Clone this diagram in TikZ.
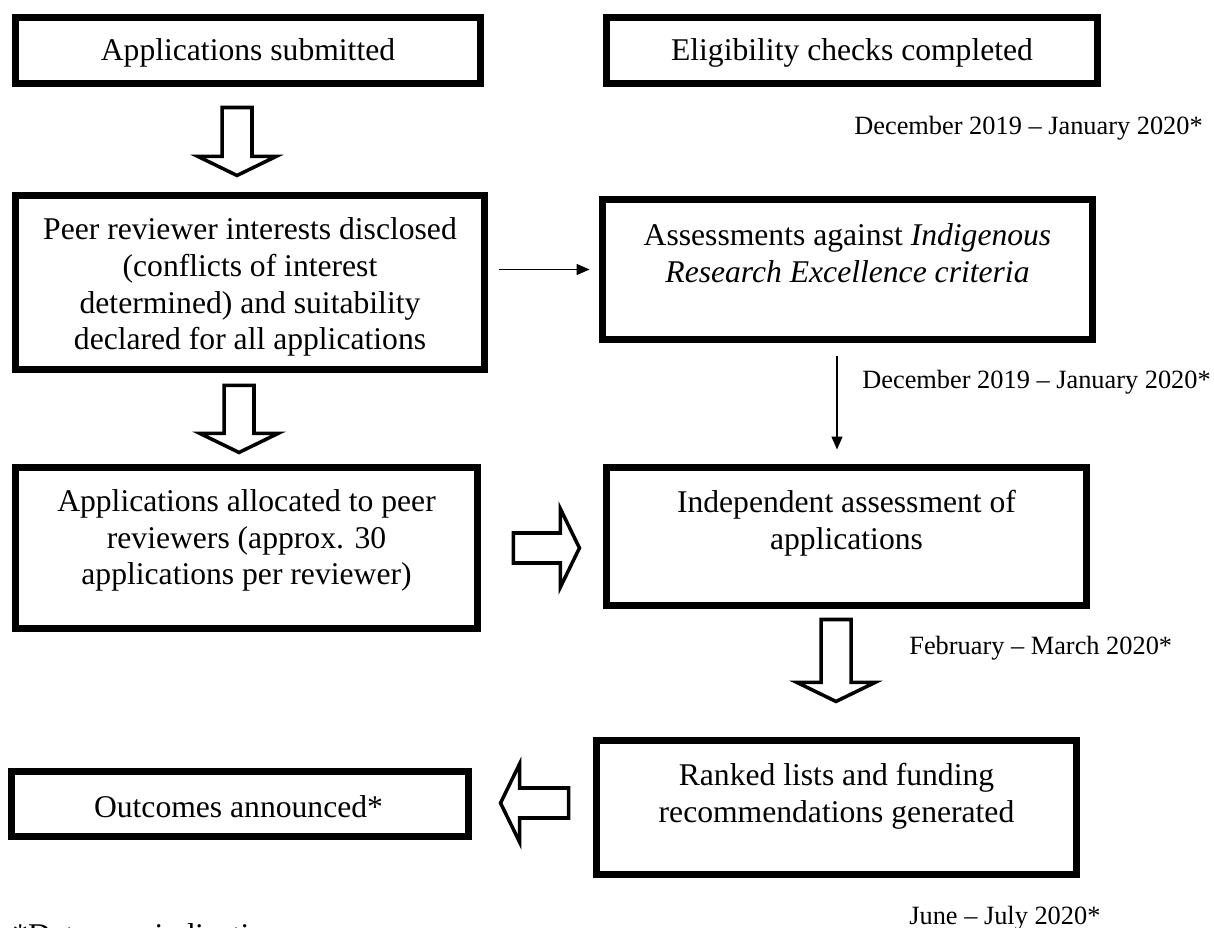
\documentclass[tikz,border=0pt]{standalone}
\usepackage{fontspec}
\setmainfont{Liberation Serif}
\usetikzlibrary{arrows.meta}

\tikzset{
  stage/.style={draw, line width=4pt, inner sep=0pt},
  txt/.style={align=center, inner sep=0pt, yshift=-0.05cm, font=\fontsize{18pt}{21pt}\selectfont},
  datetxt/.style={anchor=base west, inner sep=0pt, font=\fontsize{15pt}{18pt}\selectfont},
  hollow/.style={draw, line width=2pt, fill=white, line join=miter},
  thinarrow/.style={line width=0.8pt, -{Triangle[length=0.26cm,width=0.22cm]}}
}
\newcommand\blockarrow[3]{%
  \draw[hollow, shift={#1}, rotate=#2]
    (0cm,-0.3cm) -- ({#3-0.38cm},-0.3cm) -- ({#3-0.38cm},-0.78cm) -- (#3,0cm)
    -- ({#3-0.38cm},0.78cm) -- ({#3-0.38cm},0.3cm) -- (0cm,0.3cm) -- cycle;}

\begin{document}
\begin{tikzpicture}[x=0.02cm, y=-0.02cm]
  \useasboundingbox (0,0) rectangle (1214,928);
  \clip (0,0) rectangle (1214,928);

  \node[stage, minimum width=9.30cm, minimum height=1.32cm] (submit) at (248,50.5) {};
  \node[stage, minimum width=9.82cm, minimum height=1.32cm] (elig) at (852,50.5) {};
  \node[stage, minimum width=9.38cm, minimum height=3.48cm] (peer) at (250,282.5) {};
  \node[stage, minimum width=9.80cm, minimum height=2.80cm] (assess) at (847.5,269.5) {};
  \node[stage, minimum width=9.24cm, minimum height=3.22cm] (alloc) at (246.5,548) {};
  \node[stage, minimum width=9.60cm, minimum height=2.76cm] (indep) at (846.5,536.5) {};
  \node[stage, minimum width=9.60cm, minimum height=2.68cm] (rank) at (836.5,807.5) {};
  \node[stage, minimum width=9.14cm, minimum height=1.30cm] (outcome) at (240,804) {};

  \node[txt] (submit-t) at (submit) {Applications submitted};
  \node[txt] (elig-t) at (elig) {Eligibility checks completed};
  \node[txt] (peer-t) at ([yshift=-0.04cm]peer) {Peer reviewer interests disclosed\\(conflicts of interest\\determined) and suitability\\declared for all applications};
  \node[txt] (assess-t) at ([yshift=0.38cm]assess) {Assessments against \textit{Indigenous}\\\textit{Research Excellence criteria}};
  \node[txt] (alloc-t) at ([yshift=0.2cm]alloc) {Applications allocated to peer\\reviewers (approx. 30\\applications per reviewer)};
  \node[txt] (indep-t) at ([yshift=0.32cm]indep) {Independent assessment of\\applications};
  \node[txt] (rank-t) at ([yshift=0.27cm]rank) {Ranked lists and funding\\recommendations generated};
  \node[txt] (outcome-t) at ([xshift=-0.03cm]outcome) {Outcomes announced*};

  \blockarrow{([xshift=-0.22cm,yshift=-0.41cm]submit.south)}{-90}{1.36cm}
  \blockarrow{([xshift=-0.22cm,yshift=-0.25cm]peer.south)}{-90}{1.34cm}
  \blockarrow{([xshift=-0.21cm,yshift=-0.21cm]indep.south)}{-90}{1.64cm}
  \blockarrow{([xshift=0.65cm]alloc.east)}{0}{1.32cm}
  \blockarrow{([xshift=-0.49cm,yshift=0.09cm]rank.west)}{180}{1.36cm}

  \draw[thinarrow, shorten <=0.23cm, shorten >=0.19cm] (peer.east |- assess.west) -- (assess.west);
  \coordinate (dn) at ([xshift=-0.21cm]assess.south);
  \draw[thinarrow, shorten <=0.27cm, shorten >=0.29cm] (dn) -- (dn |- indep.north);

  \node[datetxt] (date1) at (854,135) {December 2019 -- January 2020*};
  \node[datetxt] (date2) at (862,389) {December 2019 -- January 2020*};
  \node[datetxt] (date3) at (909,655) {February -- March 2020*};
  \node[datetxt] (date4) at (909,924) {June -- July 2020*};
  \node[anchor=base west, inner sep=0pt, font=\fontsize{18pt}{21pt}\selectfont] (note) at (12,945) {*Dates are indicative};
\end{tikzpicture}
\end{document}
